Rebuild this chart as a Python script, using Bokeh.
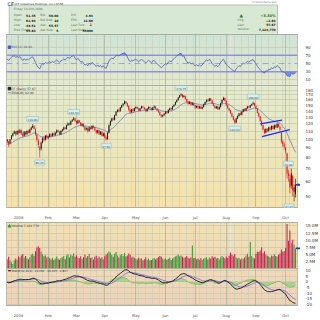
import numpy as np
import pandas as pd
from bokeh.plotting import figure
from bokeh.layouts import column
from bokeh.models import (Range1d, FixedTicker, PrintfTickFormatter, Grid,
                          LinearScale, Span, Arrow, NormalHead)
from bokeh.embed import file_html
from bokeh.resources import INLINE
from bokeh.core.properties import value

FONT = "DejaVu Sans"

# ---------------- data ----------------
# trading-day index, 0 = 2-Jan-2008 (negative = late Dec 2007)
day_idx = list(range(-8, 197))
first_day, last_day = "2007-12-19", "2008-10-10"
holidays = ["2007-12-25", "2008-01-01", "2008-01-21", "2008-02-18",
            "2008-03-21", "2008-05-26", "2008-07-04", "2008-09-01"]

opens = [99, 97, 95, 100, 104, 107, 109, 106,
         110, 108, 111, 107, 104, 109, 106, 110, 108, 112,
         115, 117, 112, 105, 98, 90, 89, 96, 101, 99,
         104, 102, 103, 106, 104, 107, 105, 108, 111, 109,
         106, 110, 112, 115, 113, 118, 121, 119, 124, 126,
         128, 124, 121, 125, 122, 118, 120, 116, 112, 114,
         110, 115, 113, 117, 115, 111, 108, 111, 106, 109,
         104, 107, 102, 100, 108, 118, 124, 128, 126, 133,
         139, 142, 140, 146, 150, 153, 157, 154, 149, 142,
         138, 143, 140, 145, 147, 144, 141, 145, 148, 146,
         143, 140, 144, 147, 145, 142, 146, 148, 144, 141,
         138, 134, 131, 133, 136, 139, 137, 142, 145, 143,
         148, 151, 156, 160, 165, 169, 171, 166, 168, 162,
         157, 153, 156, 151, 154, 150, 146, 149, 145, 148,
         144, 147, 152, 156, 160, 158, 163, 159, 153, 149,
         145, 148, 143, 147, 154, 160, 164, 158, 150, 145,
         141, 136, 131, 126, 122, 128, 132, 136, 134, 139,
         143, 141, 145, 148, 146, 150, 152, 154, 149, 144,
         137, 131, 124, 118, 112, 108, 113, 110, 115, 112,
         117, 113, 118, 115, 120, 116, 108, 97, 94, 90,
         84, 66, 62, 57, 64, 53, 51.45]

highs = [100, 98, 100, 105, 108, 111, 110, 111,
         112, 113, 112, 109, 110, 110, 111, 112, 113, 116,
         119.8, 118, 114, 107, 100, 92, 97, 102, 103, 105,
         106, 104, 107, 107, 108, 108, 109, 112, 112, 110,
         111, 113, 116, 116, 119, 122, 122, 125, 127, 130.5,
         129, 125, 126, 126, 123, 121, 121, 117, 115, 115,
         116, 116, 118, 118, 116, 112, 112, 112, 110, 110,
         108, 108, 104, 109, 119, 125, 129, 130, 134, 140,
         143, 144, 147, 151, 154, 159, 158, 155, 150, 144,
         144, 145, 146, 148, 148, 145, 146, 149, 149, 147,
         144, 145, 148, 148, 146, 147, 150, 149, 145, 142,
         139, 135, 134, 137, 140, 140, 143, 146, 146, 149,
         152, 157, 161, 166, 170, 173.75, 172, 170, 169, 163,
         158, 158, 157, 156, 155, 151, 150, 150, 149, 149,
         148, 153, 157, 161, 162, 164, 164, 160, 154, 150,
         149, 149, 148, 155, 161, 166.5, 165, 159, 151, 146,
         142, 137, 132, 127, 129, 133, 137, 138, 140, 144,
         145, 146, 149, 149, 151, 153, 156.9, 155, 150, 145,
         138, 132, 125, 119, 113, 114, 114, 116, 116, 118,
         118, 119, 119, 121, 121, 117, 109, 99, 96, 91,
         85, 69, 65, 70, 65, 58, 61.94]

lows = [95, 91, 94, 99, 103, 106, 104, 105,
        106, 107, 105, 102, 103, 104, 105, 107, 107, 111,
        114, 112, 104, 97, 90, 80.05, 87, 95, 97, 98,
        100, 100, 102, 102, 103, 104, 104, 107, 108, 105,
        105, 109, 111, 112, 112, 117, 118, 118, 123, 125,
        123, 119, 120, 121, 117, 116, 115, 110, 111, 108,
        109, 112, 112, 114, 110, 106, 107, 105, 105, 103,
        103, 101, 97.9, 99, 107, 117, 123, 125, 125, 132,
        138, 138, 139, 145, 148, 152, 152, 147, 140, 136,
        137, 139, 139, 144, 143, 140, 140, 144, 145, 142,
        138, 139, 143, 144, 141, 141, 145, 143, 140, 137,
        133, 129, 130, 132, 135, 135, 136, 141, 141, 142,
        147, 150, 155, 159, 164, 167, 164, 165, 161, 155,
        151, 152, 150, 150, 149, 144, 145, 144, 144, 143.5,
        143, 146, 151, 155, 156, 157, 158, 152, 148, 144,
        144, 142, 142, 146, 153, 159, 157, 149, 144, 140,
        135, 130, 125, 120.1, 121, 127, 131, 133, 133, 138,
        140, 140, 144, 145, 145, 149, 151, 148, 143, 136,
        130, 123, 117, 111, 106, 107, 109, 109, 111, 111,
        112, 112, 114, 114, 115, 110, 95, 91, 88, 84,
        62, 60, 52, 55, 50, 47.15, 49.51]

closes = [97, 94, 99, 104, 107, 109, 106, 110,
          108, 111, 107, 104, 109, 106, 110, 108, 112, 115,
          117, 113, 106, 99, 93, 88, 96, 101, 99, 104,
          102, 103, 106, 104, 107, 105, 108, 111, 109, 106,
          110, 112, 115, 113, 118, 121, 119, 124, 126, 128,
          124, 121, 125, 122, 118, 120, 116, 112, 114, 110,
          115, 113, 117, 115, 111, 108, 111, 106, 109, 104,
          107, 102, 100, 108, 118, 124, 128, 126, 133, 139,
          142, 140, 146, 150, 153, 157, 154, 149, 142, 138,
          143, 140, 145, 147, 144, 141, 145, 148, 146, 143,
          140, 144, 147, 145, 142, 146, 148, 144, 141, 138,
          134, 131, 133, 136, 139, 137, 142, 145, 143, 148,
          151, 156, 160, 165, 169, 171, 166, 168, 162, 157,
          153, 156, 151, 154, 150, 146, 149, 145, 148, 144,
          147, 152, 156, 160, 158, 163, 159, 153, 149, 145,
          148, 143, 147, 154, 160, 164, 158, 150, 145, 141,
          136, 131, 126, 122, 128, 132, 136, 134, 139, 143,
          141, 145, 148, 146, 150, 152, 154, 149, 144, 137,
          131, 124, 118, 112, 108, 113, 110, 115, 112, 117,
          113, 118, 115, 120, 116, 112, 97, 94, 91, 86,
          66, 64, 56, 66, 54, 55.83, 57.67]

volume_m = [3.2, 4.1, 2.9, 2.2, 1.6, 2.8, 3.5, 3.1,
            4.2, 3.8, 4.6, 5.1, 3.9, 4.4, 3.6, 3.3, 4.0, 4.8, 5.2, 4.5, 6.1, 7.4, 7.8, 7.2, 5.9, 5.0, 4.3, 4.7, 3.9,
            4.1, 3.6, 3.2, 3.8, 3.0, 3.5, 4.2, 3.4, 3.1, 3.7, 4.0, 4.4, 3.3, 4.6, 5.0, 3.9, 4.8, 4.5, 5.3, 4.1,
            4.6, 3.9, 3.6, 4.3, 3.4, 4.0, 4.9, 3.8, 4.4, 5.1, 3.7, 3.9, 3.2, 4.1, 4.5, 3.6, 4.2, 3.5, 4.0, 3.3,
            4.3, 4.9, 5.4, 6.0, 5.6, 4.8, 4.1, 5.2, 5.8, 4.6, 3.9, 4.7, 5.1, 4.4, 5.5, 4.2, 4.6, 5.3, 4.8, 3.9, 4.1, 3.7,
            3.5, 3.2, 3.8, 3.4, 3.6, 2.9, 3.3, 3.9, 3.1, 3.5, 2.8, 3.0, 3.4, 3.7, 3.2, 3.6, 4.0, 4.4, 4.1, 3.5, 3.3,
            3.6, 3.1, 3.4, 3.8, 3.0, 3.5, 3.9, 4.2, 4.5, 4.8, 4.3, 4.6, 4.1, 3.7, 4.0, 4.4, 3.8, 3.5, 3.9, 8.1, 3.6,
            3.8, 3.3, 3.5, 3.1, 3.6, 3.0, 3.4, 3.7, 4.0, 3.2, 3.9, 3.5, 4.3, 3.8, 4.1, 3.4, 3.7, 3.2, 3.9, 4.4, 4.0, 3.6,
            4.2, 3.7, 4.5, 5.6, 4.8, 4.3, 5.1, 3.9, 3.5, 3.8, 3.2, 3.6, 3.4, 3.9, 4.6, 5.2, 4.1, 9.3, 4.4, 3.8, 3.5,
            5.2, 5.9, 5.8, 6.3, 7.5, 5.4, 6.1, 4.9, 4.5, 4.2, 3.9, 4.6, 4.3, 5.0, 4.4, 4.1, 4.8, 5.3, 6.7, 5.9, 6.2,
            7.2, 15.7, 9.8, 13.4, 8.9, 10.1, 8.4, 7.12]

month_idx = [0, 21, 41, 61, 83, 104, 125, 147, 168, 189]
month_labels = ["2008", "Feb", "Mar", "Apr", "May", "Jun", "Jul", "Aug", "Sep", "Oct"]

price_ticks = [50, 60, 70, 80, 90, 100, 110, 120, 130, 140, 150, 160, 170, 180]
rsi_ticks = [10, 30, 50, 70, 90]
volume_ticks = [2.5, 5.0, 7.5, 10.0, 12.5, 15.0]
macd_ticks = [-20, -15, -10, -5, 0, 5, 10]

# marked highs / lows on the price panel
mark_idx = [10, 15, 39, 62, 115, 153, 166, 193, 195]
mark_price = [119.80, 80.05, 130.50, 97.90, 173.75, 120.10, 156.90, 70.00, 47.15]
mark_is_high = [True, False, True, False, True, False, True, True, False]

# flag trend lines
flag_upper_x = [171.0, 186.5]
flag_upper_y = [120.0, 125.5]
flag_lower_x = [172.3, 192.0]
flag_lower_y = [103.0, 112.0]

# quote box
quote_date = "Friday 10-Oct-2008"
q1_labels = ["Open:", "High:", "Low:", "Prev Close:"]
q1_values = ["51.45", "61.94", "49.51", "55.83"]
q2_labels = ["Bid:", "Bid Size:", "Ask:", "Ask Size:"]
q2_values = ["50.00", "10", "55.57", "5"]
q3_labels = ["P/E:", "EPS:", "Last Tick:", "Last Size:"]
q3_values = ["4.93", "11.69", "\u2193", "55000"]
q4_labels = ["Chg:", "Last:", "Volume:"]
q4_values = ["+1.84", "57.67", "7,124,770"]
pct_change = "+3.30%"
rsi_label = "RSI(14) 29.98"
price_label = "CF (Daily) 57.67"
ema_label = "EMA(20) 82.90"
vol_label = "Volume 7,124,770"
macd_label = "MACD(12,26,9) -19.432, -16.615, -2.817"

# ---------------- calendar: weekly grid positions ----------------
dates = pd.bdate_range(first_day, last_day)
dates = dates[~dates.isin(pd.to_datetime(holidays))]
wk = dates.isocalendar().week.values
week_idx = [day_idx[i] for i in range(1, len(dates)) if wk[i] != wk[i - 1]]

# ---------------- indicators computed from the closes ----------------
c = np.array(closes, dtype=float)


def ema(a, n, seed):
    k = 2.0 / (n + 1)
    out = np.empty_like(a)
    prev = seed
    for i in range(len(a)):
        prev = prev + k * (a[i] - prev)
        out[i] = prev
    return out


ema20 = ema(c, 20, 93.5)
macd_line = ema(c, 12, 100.0) - ema(c, 26, 100.0)
signal_line = ema(macd_line, 9, 0.0)
hist = macd_line - signal_line

ag, al = 2.2, 1.4
rsi = np.empty_like(c)
for i in range(len(c)):
    d = c[i] - (c[i - 1] if i > 0 else c[0])
    ag = ag + (max(d, 0) - ag) / 14.0
    al = al + (max(-d, 0) - al) / 14.0
    rsi[i] = 100 - 100 / (1 + ag / max(al, 1e-9))

up = [True] + [closes[i] >= closes[i - 1] for i in range(1, len(closes))]
candle_col = ["#111111" if u else "#ee0a14" for u in up]
vol_col = ["#3b973b" if u else "#c4234f" for u in up]
body_top = [max(o, cl) for o, cl in zip(opens, closes)]
body_bot = [min(o, cl) for o, cl in zip(opens, closes)]

# ---------------- layout helpers ----------------
XL, XR = 6, 299
SA, SB = 18.1, 1.423


def fx(px):
    return (px - SA) / SB


xr = Range1d(fx(XL), fx(XR))


def mix(c1, c2, t):
    a = [int(c1[i:i + 2], 16) for i in (1, 3, 5)]
    b = [int(c2[i:i + 2], 16) for i in (1, 3, 5)]
    return "#%02x%02x%02x" % tuple(int(round(a[k] + (b[k] - a[k]) * t)) for k in range(3))


def panel(h, yr, ytype, top_col, bot_col, ticks, fmt, axis_h=0):
    p = figure(width=320, height=h + axis_h, x_range=xr, y_range=yr, y_axis_type=ytype,
               y_axis_location="right", x_axis_location="below" if axis_h else None,
               title=None, output_backend="svg", toolbar_location=None,
               min_border=0, min_border_left=XL, min_border_right=320 - XR,
               min_border_bottom=axis_h)
    p.outline_line_color = "#9a9a9a"
    p.border_fill_color = "white"
    p.background_fill_color = bot_col
    p.extra_y_ranges = {"bg": Range1d(0, 1)}
    p.extra_y_scales = {"bg": LinearScale()}
    n = 20
    edges = np.linspace(1, 0, n + 1)
    cols = [mix(top_col, bot_col, k / (n - 1)) for k in range(n)]
    r = p.quad(left=-60, right=260, top=list(edges[:-1]), bottom=list(edges[1:]),
               fill_color=cols, line_color=None, y_range_name="bg")
    r.level = "image"
    ax = p.yaxis[0]
    ax.ticker = FixedTicker(ticks=ticks)
    ax.formatter = PrintfTickFormatter(format=fmt)
    ax.major_tick_line_color = None
    ax.minor_tick_line_color = None
    ax.axis_line_color = None
    ax.major_label_text_font_size = "4px"
    ax.major_label_text_font = FONT
    ax.major_label_text_color = "#333333"
    ax.major_label_standoff = 2
    p.ygrid.ticker = FixedTicker(ticks=ticks)
    p.ygrid.grid_line_color = "#c3c7b2"
    p.ygrid.grid_line_width = 0.7
    if axis_h:
        p.xgrid.visible = False
        xa = p.xaxis[0]
        xa.ticker = FixedTicker(ticks=month_idx)
        xa.major_label_overrides = {m: l for m, l in zip(month_idx, month_labels)}
        xa.major_tick_line_color = None
        xa.minor_tick_line_color = None
        xa.axis_line_color = None
        xa.major_label_text_font_size = "3.8px"
        xa.major_label_text_font = FONT
        xa.major_label_text_color = "#555555"
        xa.major_label_standoff = 1
    p.add_layout(Grid(dimension=0, ticker=FixedTicker(ticks=week_idx),
                      grid_line_color="#c9ccb9", grid_line_width=0.6))
    p.add_layout(Grid(dimension=0, ticker=FixedTicker(ticks=month_idx),
                      grid_line_color="#aeb29c", grid_line_width=0.7))
    return p


def legend_text(p, px, py, top, h, txt, color="#333333", size="3px"):
    p.text(x=[fx(px)], y=[1 - (py - top) / h], text=[txt], y_range_name="bg",
           text_font=value(FONT), text_font_size=size, text_color=color,
           text_baseline="middle", text_align="left")


# ---------------- header ----------------
hd = figure(width=320, height=34, x_range=Range1d(0, 320), y_range=Range1d(34, 0),
            x_axis_location=None, y_axis_location=None, title=None,
            output_backend="svg", toolbar_location=None, min_border=0)
hd.outline_line_color = None
hd.grid.visible = False
hd.border_fill_color = "white"
hd.background_fill_color = "white"
hd.quad(left=3, right=298, top=4.5, bottom=34, fill_color="#d8e9d3", line_color="#a8baa8", line_width=0.8)


def htext(xs, ys, txts, align="left", color="#5d6b5d", size="3px", style="normal"):
    hd.text(x=xs, y=ys, text=txts, text_align=align, text_baseline="middle",
            text_font=value(FONT), text_font_size=size, text_color=color, text_font_style=style)


htext([1], [3.0], ["CF"], size="5px", color="#222222")
htext([9], [3.0], ["(CF Industries Holdings, Inc.) NYSE"], size="2.8px", color="#444444")
htext([297], [2.4], ["\u00a9 StockCharts.com"], align="right", size="2.5px", color="#666666")
htext([8], [8.2], [quote_date], size="3px")
rows = [14.3, 19.3, 24.3, 29.3]
htext([8] * 4, rows, q1_labels)
htext([32] * 4, rows, q1_values, align="right", color="#111111", style="bold")
htext([37] * 4, rows, q2_labels)
htext([57] * 4, rows, q2_values, align="right", color="#111111", style="bold")
htext([71] * 4, rows, q3_labels)
htext([95, 95, 95], [rows[0], rows[1], rows[3]], [q3_values[0], q3_values[1], q3_values[3]],
      align="right", color="#111111", style="bold")
htext([95], [rows[2]], [q3_values[2]], align="right", color="#e00000", style="bold", size="4.5px")
htext([258], [15], ["\u25b2"], align="center", color="#1f7a1f", size="4.5px")
htext([296], [15], [pct_change], align="right", color="#1f7a1f", style="bold", size="3.6px")
rows2 = [19.5, 24.0, 28.5]
htext([254] * 3, rows2, q4_labels)
htext([296] * 3, rows2, q4_values, align="right", color="#111111", style="bold")

# ---------------- RSI ----------------
RT, RH = 34, 51
rsi_p = panel(RH, Range1d(-3.7, 120.7), "linear", "#cfe3d6", "#e3e9cc", rsi_ticks, "%d")
rsi_p.ygrid.ticker = FixedTicker(ticks=[10, 90])
for lvl, w, dash in [(70, 1.6, "solid"), (30, 1.6, "solid"), (50, 0.8, "dashdot")]:
    s = Span(location=lvl, dimension="width", line_color="#8f93d6", line_width=w, line_dash=dash)
    s.level = "underlay"
    rsi_p.add_layout(s)
rsi_p.varea(x=day_idx, y1=[70] * len(rsi), y2=list(np.maximum(rsi, 70)), fill_color="#6f86e0", fill_alpha=0.9)
rsi_p.varea(x=day_idx, y1=list(np.minimum(rsi, 30)), y2=[30] * len(rsi), fill_color="#6f86e0", fill_alpha=0.9)
rsi_p.line(day_idx, list(rsi), line_color="#4a5bc8", line_width=0.8)
rsi_p.scatter([fx(9)], [1 - (46.7 - RT) / RH], marker="square", size=2.5, color="#4a5bc8", y_range_name="bg")
legend_text(rsi_p, 11, 46.7, RT, RH, rsi_label, color="#555a88")

# ---------------- price (with date axis below) ----------------
PT, PH = 85, 130
price = panel(PH, Range1d(43.85, 190.5), "log", "#e3ecce", "#f6e2aa", price_ticks, "%d", axis_h=7)
price.line(day_idx, list(ema20), line_color="#8a90b8", line_width=1)
price.segment(x0=day_idx, y0=lows, x1=day_idx, y1=highs, line_color=candle_col, line_width=0.6)
price.vbar(x=day_idx, width=0.6, top=body_top, bottom=body_bot, fill_color=candle_col,
           line_color=None)
price.line(flag_upper_x, flag_upper_y, line_color="#1a2cff", line_width=1.3)
price.line(flag_lower_x, flag_lower_y, line_color="#1a2cff", line_width=1.3)
price.text(x=mark_idx, y=mark_price, text=["%.2f" % v for v in mark_price],
           y_offset=[-5 if hi else 5 for hi in mark_is_high],
           x_offset=[0, 0, 0, 0, 0, 0, 0, -3, -5],
           text_align="center", text_baseline="middle", text_font=value(FONT),
           text_font_size="2.8px", text_color="#335555",
           background_fill_color="#d4eef2", border_line_color="#8fb3b8",
           border_line_width=0.5, padding=1)
price.scatter([fx(9)], [1 - (88.3 - PT) / PH], marker="square", size=2.5, color="#222222", y_range_name="bg")
legend_text(price, 11, 88.3, PT, PH, price_label)
price.line([fx(7.5), fx(10.5)], [1 - (92.7 - PT) / PH] * 2, line_color="#8a90b8", line_width=1, y_range_name="bg")
legend_text(price, 11, 92.7, PT, PH, ema_label)
price.add_layout(Arrow(end=NormalHead(size=4, fill_color="#1030ff", line_color="#1030ff"),
                       x_start=fx(303), y_start=closes[-1], x_end=fx(297.5), y_end=closes[-1],
                       line_color="#1030ff", line_width=1.8))

# ---------------- volume ----------------
VT, VH = 222, 46
vol = panel(VH, Range1d(0, 16.2), "linear", "#f3e1b2", "#f1d7b4", volume_ticks, "%.1fM")
vol.vbar(x=day_idx, width=0.75, top=volume_m, bottom=0, fill_color=vol_col, line_color=None)
vol.scatter([fx(9)], [1 - (225.7 - VT) / VH], marker="triangle", size=3, color="#3b973b", y_range_name="bg")
legend_text(vol, 11, 225.7, VT, VH, vol_label)
vol.add_layout(Arrow(end=NormalHead(size=4, fill_color="#1030ff", line_color="#1030ff"),
                     x_start=fx(303), y_start=volume_m[-1], x_end=fx(297.5), y_end=volume_m[-1],
                     line_color="#1030ff", line_width=1.8))

# ---------------- MACD (with date axis below) ----------------
MT, MH = 268, 44
macd = panel(MH, Range1d(-21, 12), "linear", "#f1d9b6", "#efd3b9", macd_ticks, "%d", axis_h=8)
macd.varea(x=day_idx, y1=[0] * len(hist), y2=list(hist), fill_color="#9fd184", fill_alpha=0.9)
macd.line(day_idx, list(hist), line_color="#5aa546", line_width=0.5)
macd.line(day_idx, list(signal_line), line_color="#7c6ae8", line_width=0.9)
macd.line(day_idx, list(macd_line), line_color="#111111", line_width=0.9)
macd.line([fx(7.5), fx(10.5)], [1 - (270.7 - MT) / MH] * 2, line_color="#111111", line_width=1, y_range_name="bg")
legend_text(macd, 11, 270.7, MT, MH, macd_label, size="2.8px")

layout = column(hd, rsi_p, price, vol, macd, spacing=0)
open("out.html", "w").write(file_html(layout, INLINE))
